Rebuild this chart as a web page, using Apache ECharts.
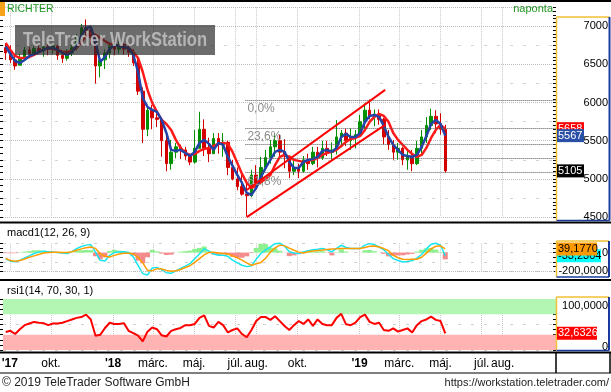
<!DOCTYPE html>
<html><head><meta charset="utf-8">
<script src="https://cdn.jsdelivr.net/npm/echarts@6/dist/echarts.min.js"></script>
<style>html,body{margin:0;padding:0;background:#fff}#c{width:611px;height:392px}</style>
</head><body><div id="c"></div>
<script>
// ---- data (weekly) ----
const weeks = ['2017-07-26','2017-08-02','2017-08-09','2017-08-16','2017-08-23','2017-08-30','2017-09-06','2017-09-13','2017-09-20','2017-09-27',
'2017-10-04','2017-10-11','2017-10-18','2017-10-25','2017-11-01','2017-11-08','2017-11-15','2017-11-22','2017-11-29','2017-12-06',
'2017-12-13','2017-12-20','2017-12-27','2018-01-03','2018-01-10','2018-01-17','2018-01-24','2018-01-31','2018-02-07','2018-02-14',
'2018-02-21','2018-02-28','2018-03-07','2018-03-14','2018-03-21','2018-03-28','2018-04-04','2018-04-11','2018-04-18','2018-04-25',
'2018-05-02','2018-05-09','2018-05-16','2018-05-23','2018-05-30','2018-06-06','2018-06-13','2018-06-20','2018-06-27','2018-07-04',
'2018-07-11','2018-07-18','2018-07-25','2018-08-01','2018-08-08','2018-08-15','2018-08-22','2018-08-29','2018-09-05','2018-09-12',
'2018-09-19','2018-09-26','2018-10-03','2018-10-10','2018-10-17','2018-10-24','2018-10-31','2018-11-07','2018-11-14','2018-11-21',
'2018-11-28','2018-12-05','2018-12-12','2018-12-19','2018-12-26','2019-01-02','2019-01-09','2019-01-16','2019-01-23','2019-01-30',
'2019-02-06','2019-02-13','2019-02-20','2019-02-27','2019-03-06','2019-03-13','2019-03-20','2019-03-27','2019-04-03','2019-04-10',
'2019-04-17','2019-04-24','2019-05-01','2019-05-08'];
const openP = [6720,6650,6560,6490,6580,6690,6640,6710,6680,6730, 6700,6740,6620,6580,6650,6720,6850,6980,6950,6850,
6480,6560,6650,6740,6700,6760,6700,6660,6520,6150, 5650,5900,5800,5780,5500,5200,5350,5420,5380,5300,
5220,5400,5650,5400,5330,5530,5450,5480,5150,5000, 4900,4800,4780,5050,4950,5150,5280,5420,5500,5350,
5300,5100,5150,5100,5250,5200,5350,5280,5400,5350, 5380,5550,5600,5500,5550,5580,5750,5900,5820,5850,
5780,5550,5450,5350,5400,5250,5300,5200,5400,5550, 5700,5820,5720,5650];
const closeP = [6650,6560,6480,6580,6690,6640,6710,6680,6730,6700, 6740,6620,6580,6650,6720,6850,6980,6950,6850,6480,
6560,6650,6740,6700,6760,6700,6660,6520,6150,5650, 5900,5800,5780,5500,5200,5350,5420,5380,5300,5220,
5400,5650,5400,5330,5530,5450,5480,5150,5000,4900, 4800,4780,5050,4950,5150,5280,5420,5500,5350,5300,
5100,5150,5100,5250,5200,5350,5280,5400,5350,5380, 5550,5600,5500,5550,5580,5750,5900,5820,5850,5780,
5550,5450,5350,5400,5250,5300,5200,5400,5550,5700, 5820,5720,5650,5105];
const lowP = [6560,6520,6430,6490,6560,6580,6620,6650,6600,6620, 6640,6560,6520,6550,6610,6680,6820,6880,6760,6250,
6330,6440,6580,6620,6640,6630,6600,6480,6100,5470, 5560,5650,5680,5290,5100,5120,5270,5260,5250,5180,
5200,5400,5300,5220,5330,5330,5290,5050,4980,4850, 4780,4505,4760,4900,4930,5150,5200,5290,5260,5140,
5010,5050,5010,5080,5120,5180,5150,5250,5300,5250, 5320,5420,5430,5380,5400,5550,5640,5780,5690,5710,
5450,5380,5250,5250,5180,5120,5100,5180,5310,5470, 5640,5600,5580,5080];
const highP = [6780,6750,6620,6640,6730,6730,6740,6760,6760,6770, 6780,6760,6680,6700,6760,6900,7030,7090,7010,6860,
6620,6700,6790,6800,6800,6780,6750,6700,6570,6200, 5960,5970,5860,5790,5580,5510,5470,5450,5420,5330,
5640,5880,5780,5540,5600,5600,5600,5500,5250,5150, 5060,4990,5120,5180,5290,5380,5510,5600,5580,5520,
5300,5250,5200,5300,5330,5420,5420,5500,5500,5480, 5770,5640,5660,5660,5640,5840,5990,6040,5910,5910,
5800,5640,5510,5470,5420,5380,5380,5500,5640,5810, 5920,5900,5860,5710];
const maFast = [6735,6637,6545,6519,6559,6611,6637,6663,6690,6716, 6716,6690,6650,6624,6663,6742,6873,6978,6991,6794,
6532,6598,6703,6755,6742,6729,6716,6624,6401,6060, 5943,5904,5878,5773,5602,5380,5367,5380,5340,5301,
5354,5472,5511,5459,5380,5472,5445,5288,5170,5052, 4947,4816,4790,4882,5026,5144,5249,5354,5380,5354,
5223,5144,5144,5223,5249,5262,5288,5367,5380,5354, 5406,5550,5590,5550,5550,5602,5747,5825,5838,5812,
5694,5550,5445,5380,5314,5301,5288,5314,5419,5563, 5720,5773,5720,5567];
const maSlow = [6781,6690,6611,6585,6585,6598,6624,6663,6690,6716, 6703,6690,6663,6663,6677,6716,6794,6873,6912,6886,
6847,6807,6768,6755,6742,6729,6716,6663,6585,6401, 6166,5996,5878,5773,5720,5642,5511,5406,5340,5314,
5327,5367,5393,5406,5432,5459,5472,5459,5354,5210, 5065,4947,4882,4908,4960,5000,5052,5183,5288,5314,
5288,5249,5236,5223,5236,5249,5275,5314,5340,5354, 5380,5432,5485,5524,5537,5563,5642,5747,5812,5851,
5825,5747,5602,5511,5445,5380,5327,5288,5314,5406, 5537,5642,5707,5658];
const macdLine = [-66,-92,-98,-82,-58,-35,-10,5,14,10, 6,0,-5,-11,10,43,65,80,86,6,
-82,-90,-29,0,6,8,0,-47,-136,-225, -240,-165,-158,-185,-215,-222,-195,-170,-145,-118,
-65,-15,40,15,-15,-29,-29,-40,-80,-110, -135,-150,-140,-70,-10,30,60,95,100,70,
10,-5,-11,6,20,30,35,43,30,8, 45,78,55,43,43,43,80,96,86,60,
30,-20,-64,-85,-100,-95,-85,-60,-20,40, 90,100,78,-33.2304];
const signalLine = [-60,-85,-92,-85,-68,-50,-35,-20,-5,2, 3,3,2,0,10,25,40,52,60,45,
-11,-40,-47,-30,-15,-8,-8,-15,-50,-110, -190,-195,-172,-175,-190,-200,-195,-180,-160,-140,
-105,-65,-25,2,5,-5,-10,-15,-35,-55, -80,-110,-135,-120,-105,-60,5,50,80,72,
48,25,5,-5,10,18,22,27,33,38, 40,43,43,43,43,45,55,68,71,60,
43,20,-29,-55,-71,-75,-72,-71,-50,-5, 40,68,72,39.1770];
const macdHist = [-6,-7,-6,3,10,15,25,25,19,8, 3,-3,-7,-11,0,18,25,28,26,-39,
-71,-50,18,30,21,16,8,-32,-86,-115, -50,30,14,-10,-25,-22,0,10,15,22,
40,50,65,13,-20,-24,-19,-25,-45,-55, -55,-40,-5,50,95,90,55,45,20,-2,
-38,-30,-16,11,10,12,13,16,-3,-30, 5,35,12,0,0,-2,25,28,15,0,
-13,-40,-35,-30,-29,-20,-13,11,30,45, 50,32,6,-72];
const rsiLine = [35.2,37.6,31.3,40.8,48.7,51.9,55.1,53.5,52.7,48.7, 51.9,51.9,53.5,56.7,59.9,63.0,64.6,69.4,59.9,28.1,
29.7,43.2,53.5,51.1,51.1,52.7,37.6,32.9,28.1,17.0, 36.0,44.0,40.8,28.9,26.5,37.6,40.8,43.2,48.7,48.7,
51.1,63.0,67.8,47.2,44.0,55.1,48.7,34.4,39.2,42.4, 31.3,24.9,39.2,56.7,64.6,64.6,59.1,66.2,56.7,47.2,
39.2,48.7,56.7,51.1,59.9,47.2,59.9,51.1,48.7,48.7, 63.0,71.0,50.3,48.7,53.5,64.6,69.4,55.1,51.1,53.5,
39.2,37.6,42.4,36.0,39.2,42.4,34.4,48.7,56.7,59.9, 65.4,59.1,56.7,32.6326];
const channelDates = ['2018-07-18','2019-02-08'];
const channelUpper = [4855, 6166];
const channelLower = [4500, 5707];
const fibStart = '2018-07-16';
const fibLevels = [6035, 5670, 5450, 5265, 5085];
const fibLabels = ['0,0%', '23,6%', '', '', '61,8%'];
const tickDates = ['2017-08-01','2017-10-01','2018-01-01','2018-03-01','2018-05-01','2018-07-01','2018-08-01','2018-10-01','2019-01-01','2019-03-01','2019-05-01','2019-07-01','2019-08-01'];
const tickLabels = ["'17",'okt.',"'18",'márc.','máj.','júl.','aug.','okt.',"'19",'márc.','máj.','júl.','aug.'];
const axisStart = '2017-07-22', axisEnd = '2019-10-19';
const priceRange = [4500, 7250];
const macdRange = [-200, 100];
const rsiRange = [0, 100];
const rsiBands = [[70, 100], [0, 30]];

// ---- helpers ----
function ts(s){const p=s.split('-').map(Number);return Date.UTC(p[0],p[1]-1,p[2]);}
const FONT = '"Liberation Sans", Arial, sans-serif';
const tickTs = tickDates.map(ts);
const labelMap = {}; tickTs.forEach((t,i)=>labelMap[t]=tickLabels[i]);
const fmtNum = (v, d) => v.toFixed(d).replace('.', ',');

const chart = echarts.init(document.getElementById('c'), null, {renderer:'canvas'});
const grids = [
  {left:3, right:55, top:7.2, height:209.85, outerBoundsMode:'none'},
  {left:3, right:55, top:243.25, height:28.05, outerBoundsMode:'none'},
  {left:3, right:55, top:299, height:51, outerBoundsMode:'none'}
];
const vGrid = {show:true, lineStyle:{color:'#c8c8c8', type:'dotted', width:1}};
function xAx(i, showLabel){
  return {type:'value', gridIndex:i, min:ts(axisStart), max:ts(axisEnd), scale:true,
    axisLine:{show:false}, axisTick:{show:false, customValues:tickTs},
    splitLine:vGrid,
    axisLabel:{show:showLabel, customValues:tickTs, margin:8, fontFamily:FONT, fontSize:12, color:'#000',
      formatter:(v)=>{const s=labelMap[v]||''; return s.charAt(0)==="'"?'{b|'+s+'}':s;},
      rich:{b:{fontWeight:'bold', fontSize:12, fontFamily:FONT, color:'#000'}}}};
}
const tickStyle = {color:'#000', width:1};
const yAxes = [
  {type:'value', gridIndex:0, position:'right', min:priceRange[0], max:priceRange[1], interval:500,
   axisLine:{show:false}, axisTick:{show:false}, minorTick:{show:false, splitNumber:2},
   splitLine:{show:true, lineStyle:{color:'#bdbdbd', type:'dotted'}},
   minorSplitLine:{show:true, lineStyle:{color:'#d4d4d4', type:[3,10]}},
   axisLabel:{align:'right', margin:52, fontFamily:FONT, fontSize:11, color:'#000',
     formatter:(v)=> v % 500 === 0 ? String(v) : ''}},
  {type:'value', gridIndex:0, position:'right', min:priceRange[0], max:priceRange[1], interval:500,
   axisLine:{show:false}, axisLabel:{show:false}, splitLine:{show:false},
   axisTick:{show:true, inside:true, length:3, lineStyle:tickStyle},
   minorTick:{show:true, splitNumber:10, length:3, lineStyle:tickStyle}},
  {type:'value', gridIndex:0, position:'left', min:priceRange[0], max:priceRange[1], interval:500,
   axisLine:{show:false}, axisLabel:{show:false}, splitLine:{show:false},
   axisTick:{show:true, length:3, lineStyle:tickStyle},
   minorTick:{show:true, splitNumber:6, length:3, lineStyle:tickStyle}},
  {type:'value', gridIndex:1, position:'right', min:macdRange[0], max:macdRange[1], interval:100,
   axisLine:{show:false}, splitLine:{show:true, lineStyle:{color:'#cfcfcf', type:[3,10]}},
   axisTick:{show:true, inside:true, length:3, lineStyle:tickStyle},
   minorTick:{show:true, splitNumber:2, length:3, lineStyle:tickStyle},
   axisLabel:{align:'right', margin:52, fontFamily:FONT, fontSize:11, color:'#000',
     formatter:(v)=> v===0?'0':(v===-200?fmtNum(v,4):'')}},
  {type:'value', gridIndex:1, position:'left', min:macdRange[0], max:macdRange[1], interval:100,
   axisLine:{show:false}, axisLabel:{show:false}, splitLine:{show:false},
   axisTick:{show:true, length:3, lineStyle:tickStyle},
   minorTick:{show:true, splitNumber:2, length:3, lineStyle:tickStyle}},
  {type:'value', gridIndex:2, position:'right', min:rsiRange[0], max:rsiRange[1], interval:50,
   axisLine:{show:false}, splitLine:{show:true, lineStyle:{color:'#cfcfcf', type:[3,10]}},
   axisTick:{show:true, inside:true, length:3, lineStyle:tickStyle},
   minorTick:{show:true, splitNumber:5, length:3, lineStyle:tickStyle},
   axisLabel:{align:'right', margin:52, fontFamily:FONT, fontSize:11, color:'#000',
     formatter:(v)=> v===100?'{t|'+fmtNum(v,4)+'}':(v===0?'{b|0}':''),
     rich:{t:{padding:[13,0,0,0], fontSize:11, fontFamily:FONT, color:'#000'},
           b:{padding:[0,0,7,0], fontSize:11, fontFamily:FONT, color:'#000'}}}},
  {type:'value', gridIndex:2, position:'left', min:rsiRange[0], max:rsiRange[1], interval:50,
   axisLine:{show:false}, axisLabel:{show:false}, splitLine:{show:false},
   axisTick:{show:true, length:3, lineStyle:tickStyle},
   minorTick:{show:true, splitNumber:5, length:3, lineStyle:tickStyle}}
];

const T = weeks.map(ts);
const candleData = T.map((t,i)=>[t, openP[i], closeP[i], lowP[i], highP[i]]);
const pair = (arr)=>T.map((t,i)=>[t, arr[i]]);

const fibMark = fibLevels.map((v,i)=>[
  {coord:[ts(fibStart), v], label:{show:!!fibLabels[i], formatter:fibLabels[i]}},
  {coord:[ts(axisEnd), v]}
]);

const series = [
  {type:'candlestick', name:'RICHTER', xAxisIndex:0, yAxisIndex:0, data:candleData, encode:{x:0, y:[1,2,3,4]},
   barWidth:3, clip:false,
   itemStyle:{color:'#009000', color0:'#d40000', borderColor:'#009000', borderColor0:'#d40000', borderWidth:1}},
  {type:'line', xAxisIndex:0, yAxisIndex:0, data:pair(maSlow), showSymbol:false, lineStyle:{color:'#ff1a1a', width:2.5}, z:3},
  {type:'line', xAxisIndex:0, yAxisIndex:0, data:pair(maFast), showSymbol:false, lineStyle:{color:'#2243a8', width:2.5}, z:4},
  {type:'line', xAxisIndex:0, yAxisIndex:0, data:channelDates.map((d,i)=>[ts(d), channelUpper[i]]), showSymbol:false,
   lineStyle:{color:'#ff0000', width:2}, z:5, clip:false,
   markLine:{silent:true, symbol:['none','none'], animation:false,
     lineStyle:{color:'#555', type:'dotted', width:1},
     label:{position:'insideStartBottom', distance:[2,3], color:'#8c8c8c', fontFamily:FONT, fontSize:12},
     data:fibMark}},
  {type:'line', xAxisIndex:0, yAxisIndex:0, data:channelDates.map((d,i)=>[ts(d), channelLower[i]]), showSymbol:false,
   lineStyle:{color:'#ff0000', width:2}, z:5, clip:false},
  {type:'bar', xAxisIndex:1, yAxisIndex:3, data:pair(macdHist), barWidth:5,
   itemStyle:{color:(p)=>p.value[1]>=0?'#8cf08c':'#f58a8a'}},
  {type:'line', xAxisIndex:1, yAxisIndex:3, data:pair(macdLine), showSymbol:false, clip:false,
   lineStyle:{color:'#17e6f2', width:1.5}, z:4},
  {type:'line', xAxisIndex:1, yAxisIndex:3, data:pair(signalLine), showSymbol:false, clip:false,
   lineStyle:{color:'#ff9d00', width:1.5}, z:5,
   markLine:{silent:true, symbol:['none','none'], label:{show:false}, lineStyle:{color:'#bbb', type:'dotted', width:1},
     data:[{yAxis:macdRange[0]}]}},
  {type:'line', xAxisIndex:2, yAxisIndex:5, data:pair(rsiLine), showSymbol:false,
   lineStyle:{color:'#ff0000', width:2}, z:5,
   markArea:{silent:true, data:[
     [{yAxis:rsiBands[0][0], itemStyle:{color:'#b3f6b3'}}, {yAxis:rsiBands[0][1]}],
     [{yAxis:rsiBands[1][0], itemStyle:{color:'#ffb3b3'}}, {yAxis:rsiBands[1][1]}]]}}
];

chart.setOption({
  animation:false,
  textStyle:{fontFamily:FONT},
  grid:grids,
  xAxis:[xAx(0,false), xAx(1,false), xAx(2,true)],
  yAxis:yAxes,
  series:series
});

// ---- decorations ----
const G = [];
function rect(x,y,w,h,fill,z){G.push({type:'rect', z:z||20, silent:true, shape:{x,y,width:w,height:h}, style:{fill}});}
function line(x1,y1,x2,y2,stroke,w){G.push({type:'line', z:20, silent:true, shape:{x1,y1,x2,y2}, style:{stroke, lineWidth:w||1}});}
function text(x,y,s,opt){G.push({type:'text', z:(opt&&opt.z)||20, silent:true, x, y,
  style:Object.assign({text:s, fill:'#000', font:'12px '+FONT, align:'left', verticalAlign:'middle',
    textAlign:'left', textVerticalAlign:'middle'}, opt&&opt.style)});}

rect(0,0,611,2,'#000');
rect(0,221.5,611,2,'#000');
rect(0,279,611,2,'#000');
rect(0,351.5,611,2,'#000');
rect(0,372.5,611,1,'#000');
const YEL='#f2c035', BLU='#1b3a9e';
function box(x1,y1,x2,y2){ line(x1,y1,x2,y1,YEL,1.5); line(x1,y1,x1,y2,YEL,1.5); line(x2,y1,x2,y2,BLU,2); line(x1,y2,x2,y2,BLU,1.5); }
box(556.5,17,609.5,220.5);
box(556.5,241,609,277);
box(556.5,297,609,350.5);
line(556,353,556,373,'#000',1.5); line(610,353,610,373,'#000',1.5);
rect(0,2,5,14,'#f7a21b');
text(7,9,'RICHTER',{style:{fill:'#1f951f', font:'10.5px '+FONT}});
text(553,9,'naponta',{style:{fill:'#1f951f', font:'11px '+FONT, align:'right', textAlign:'right'}});
text(7,232.5,'macd1(12, 26, 9)',{style:{font:'11px '+FONT}});
text(7,291,'rsi1(14, 70, 30, 1)',{style:{font:'11px '+FONT}});
text(2,382.5,'\u00a9 2019 TeleTrader Software GmbH',{style:{fill:'#222', font:'12px '+FONT}});
text(609,383,'https://workstation.teletrader.com/',{style:{fill:'#222', font:'11px '+FONT, align:'right', textAlign:'right'}});

const ctx = document.createElement('canvas').getContext('2d');
ctx.font = 'bold 20px ' + FONT;
const wmW = ctx.measureText('TeleTrader WorkStation').width || 220;
G.push({type:'rect', z:60, silent:true, shape:{x:15,y:25,width:200,height:30}, style:{fill:'rgba(38,38,38,0.68)'}});
G.push({type:'text', z:61, silent:true, x:23, y:40, scaleX:184/wmW,
  style:{text:'TeleTrader WorkStation', fill:'rgba(205,205,205,0.75)', font:'bold 20px '+FONT,
    align:'left', verticalAlign:'middle', textAlign:'left', textVerticalAlign:'middle'}});

function vbox(axisIdx, value, label, bg, fg, w, z){
  const y = chart.convertToPixel({yAxisIndex:axisIdx}, value);
  G.push({type:'rect', z:z, silent:true, shape:{x:557, y:y-6.5, width:w, height:13}, style:{fill:bg}});
  G.push({type:'text', z:z, silent:true, x:558, y:y,
    style:{text:label, fill:fg, font:'11px '+FONT, align:'left', verticalAlign:'middle', textAlign:'left', textVerticalAlign:'middle'}});
}
const nLast = weeks.length-1;
vbox(0, maSlow[nLast], String(maSlow[nLast]), '#ff0000', '#fff', 27, 40);
vbox(0, maFast[nLast], String(maFast[nLast]), '#2a4fa6', '#fff', 27, 41);
vbox(0, closeP[nLast], String(closeP[nLast]), '#000', '#fff', 27, 40);
vbox(3, macdLine[nLast], fmtNum(macdLine[nLast],4), '#00ffff', '#000', 44, 40);
vbox(3, signalLine[nLast], fmtNum(signalLine[nLast],4), '#ff9900', '#000', 40, 41);
vbox(5, rsiLine[nLast], fmtNum(rsiLine[nLast],4), '#ff0000', '#fff', 40, 40);

chart.setOption({graphic:G});
</script></body></html>
